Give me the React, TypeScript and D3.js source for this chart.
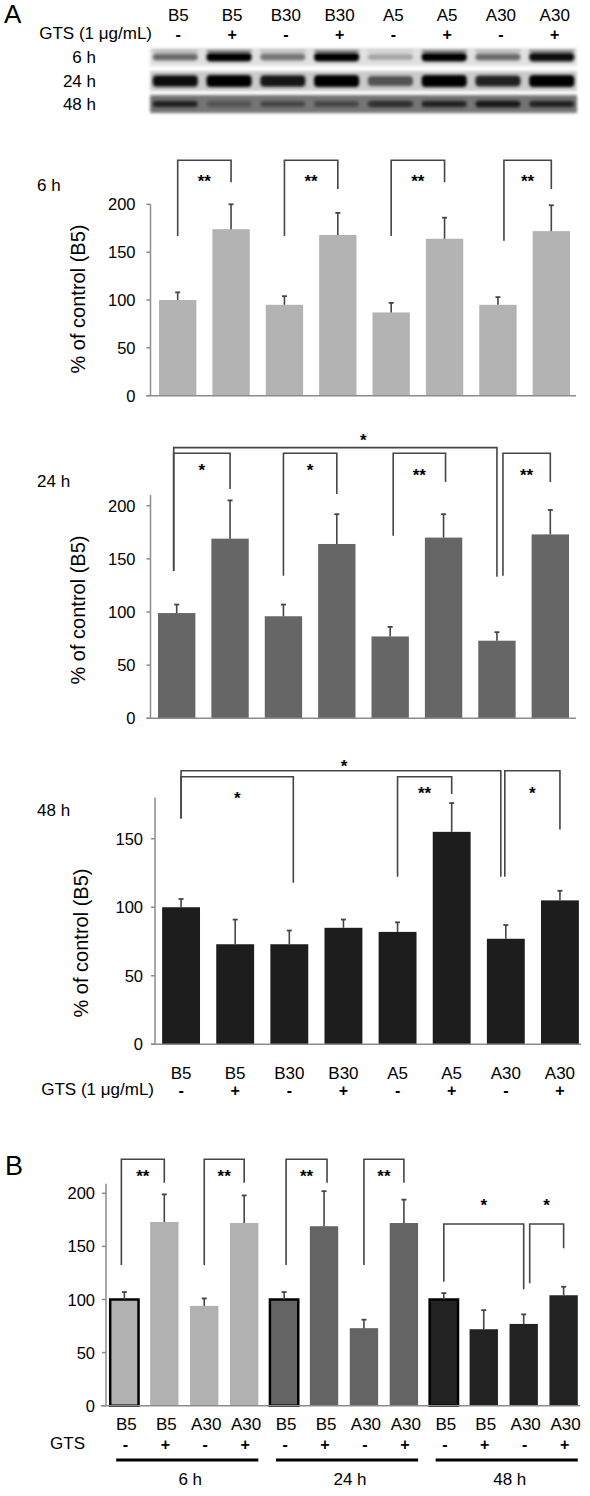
import React from 'react';
import * as d3 from 'd3';

const FONT = "'Liberation Sans', Arial, Helvetica, sans-serif";

// ---------- Data ----------
const categoriesA = ['B5', 'B5', 'B30', 'B30', 'A5', 'A5', 'A30', 'A30'];
const gtsA = ['-', '+', '-', '+', '-', '+', '-', '+'];

const values6h = [100, 174, 95, 168, 87, 164, 95, 172];
const errTop6h = [108, 200, 104, 191, 97, 186, 103, 199];

const values24h = [99, 169, 96, 164, 77, 170, 73, 173];
const errTop24h = [107, 205, 107, 192, 86, 192, 81, 196];

const values48h = [100, 73, 73, 85, 82, 155, 77, 105];
const errTop48h = [106, 91, 83, 91, 89, 176, 87, 112];

const ticks200 = [0, 50, 100, 150, 200];
const ticks150 = [0, 50, 100, 150];

const blot6h = [0.55, 1, 0.5, 1, 0.3, 1, 0.55, 0.95];
const blot24h = [0.95, 1, 0.9, 1, 0.65, 1, 0.85, 1];
const blot48h = [0.85, 0.65, 0.7, 0.7, 0.8, 0.85, 0.9, 0.85];
const blotRows = ['6 h', '24 h', '48 h'];

const categoriesB = ['B5', 'B5', 'A30', 'A30', 'B5', 'B5', 'A30', 'A30', 'B5', 'B5', 'A30', 'A30'];
const gtsB = ['-', '+', '-', '+', '-', '+', '-', '+', '-', '+', '-', '+'];
const valuesB = [100, 173, 94, 172, 100, 169, 73, 172, 100, 72, 77, 104];
const errTopB = [107, 199, 101, 198, 107, 202, 81, 194, 106, 90, 86, 112];
const groupsB = ['6 h', '24 h', '48 h'];
const groupColorsB = ['#b1b1b1', '#646464', '#222222'];

type Bracket = {
  a: number; b: number; top: number; ya: number; yb: number; label: string;
  sy: number; dxa?: number; dxb?: number; sx?: number;
};

const brackets6h: Bracket[] = [
  { a: 0, b: 1, top: 246, ya: 167, yb: 223, label: '**', sy: 227 },
  { a: 2, b: 3, top: 246, ya: 167, yb: 216, label: '**', sy: 227 },
  { a: 4, b: 5, top: 246, ya: 167, yb: 223, label: '**', sy: 227 },
  { a: 6, b: 7, top: 246, ya: 162, yb: 216, label: '**', sy: 227, dxa: 6 },
];

const brackets24h: Bracket[] = [
  { a: 0, b: 6, top: 254.6, ya: 138.6, yb: 133.2, label: '*', sy: 265, dxa: -3, sx: 28 },
  { a: 0, b: 1, top: 249.3, ya: 138.6, yb: 215.7, label: '*', sy: 236.7, dxa: -3 },
  { a: 2, b: 3, top: 249.3, ya: 134.1, yb: 211, label: '*', sy: 236.4 },
  { a: 4, b: 5, top: 249.3, ya: 171.8, yb: 222.3, label: '**', sy: 231.7, dxa: 3, dxb: 2 },
  { a: 6, b: 7, top: 249.3, ya: 134.1, yb: 222.3, label: '**', sy: 231.7, dxa: 6 },
];

const brackets48h: Bracket[] = [
  { a: 0, b: 6, top: 199.6, ya: 164.8, yb: 122.2, label: '*', sy: 205.4, dxb: -5, sx: 3 },
  { a: 0, b: 2, top: 195.2, ya: 164.8, yb: 117.9, label: '*', sy: 181.8, dxb: 4 },
  { a: 4, b: 5, top: 195.2, ya: 122.2, yb: 182.6, label: '**', sy: 185.5 },
  { a: 6, b: 7, top: 199.6, ya: 122.2, yb: 156.8, label: '*', sy: 185.5, dxa: -1 },
];

const bracketsB: Bracket[] = [
  { a: 0, b: 1, top: 232, ya: 132.5, yb: 210, label: '**', sy: 218.8, dxa: -3 },
  { a: 2, b: 3, top: 232, ya: 132.5, yb: 210, label: '**', sy: 218.8 },
  { a: 4, b: 5, top: 232, ya: 132.5, yb: 210, label: '**', sy: 218.8, dxa: 2, dxb: 3 },
  { a: 6, b: 7, top: 232, ya: 132.5, yb: 210, label: '**', sy: 218.8 },
  { a: 8, b: 10, top: 171.1, ya: 116.8, yb: 109.6, label: '*', sy: 192 },
  { a: 10, b: 11, top: 171.1, ya: 115.3, yb: 148.2, label: '*', sy: 192, dxa: 6 },
];

const yTitle = '% of control (B5)';

type PanelCfg = {
  name: string; values: number[]; errs: number[]; color: string; brackets: Bracket[];
  y0: number; yRefPx: number; yRefVal: number; axisMax: number; ticks: number[];
  axisX: number; xRange: [number, number]; xAxisEnd: number; titleX: number; titleY: number;
  labelY: number; tickGap: number;
};

const panelsA: PanelCfg[] = [
  {
    name: '6 h', values: values6h, errs: errTop6h, color: '#b3b3b3', brackets: brackets6h,
    y0: 395.7, yRefPx: 204.3, yRefVal: 200, axisMax: 200, ticks: ticks200,
    axisX: 150.5, xRange: [151, 578], xAxisEnd: 576, titleX: 78, titleY: 299, labelY: 185, tickGap: 15,
  },
  {
    name: '24 h', values: values24h, errs: errTop24h, color: '#666666', brackets: brackets24h,
    y0: 718.3, yRefPx: 505.7, yRefVal: 200, axisMax: 210, ticks: ticks200,
    axisX: 150.5, xRange: [150, 577], xAxisEnd: 576, titleX: 78, titleY: 610, labelY: 481, tickGap: 15,
  },
  {
    name: '48 h', values: values48h, errs: errTop48h, color: '#1d1d1d', brackets: brackets48h,
    y0: 1044.3, yRefPx: 838.7, yRefVal: 150, axisMax: 180, ticks: ticks150,
    axisX: 155, xRange: [154, 587], xAxisEnd: 581, titleX: 81, titleY: 943, labelY: 810, tickGap: 12,
  },
];

const AXIS = '#8c8c8c';
const LINE = '#454545';
const FS = 17;
const TICK_FS = 16.5;

function BracketMark({ br, cx, y }: { br: Bracket; cx: (i: number) => number; y: d3.ScaleLinear<number, number> }) {
  const xa = cx(br.a) + (br.dxa || 0);
  const xb = cx(br.b) + (br.dxb || 0);
  const d = `M${xa},${y(br.ya)}V${y(br.top)}H${xb}V${y(br.yb)}`;
  const sx = (xa + xb) / 2 + (br.sx || 0);
  return (
    <g>
      <path d={d} fill="none" stroke={LINE} strokeWidth={1.6} />
      <text x={sx} y={y(br.sy) + 9} textAnchor="middle" fontSize={17} fontWeight="bold" fill="#000">{br.label}</text>
    </g>
  );
}

function PanelA({ p, showBottom }: { p: PanelCfg; showBottom: boolean }) {
  const x = d3.scaleBand<number>().domain(d3.range(categoriesA.length)).range(p.xRange).paddingInner(0.3).paddingOuter(0.15);
  const y = d3.scaleLinear().domain([0, p.yRefVal]).range([p.y0, p.yRefPx]);
  const bw = x.bandwidth();
  const cx = (i: number) => (x(i) as number) + bw / 2;
  return (
    <g>
      <text x={37} y={p.labelY} dominantBaseline="central" fontSize={FS}>{p.name}</text>
      <text transform={`translate(${p.titleX},${p.titleY}) rotate(-90)`} textAnchor="middle" dominantBaseline="central" fontSize={20}>{yTitle}</text>
      {p.values.map((v, i) => (
        <rect key={'b' + i} x={x(i)} y={y(v)} width={bw} height={y(0) - y(v)} fill={p.color} />
      ))}
      {p.errs.map((e, i) => (
        <g key={'e' + i}>
          <line x1={cx(i)} x2={cx(i)} y1={y(p.values[i])} y2={y(e)} stroke={LINE} strokeWidth={1.6} />
          <line x1={cx(i) - 2.5} x2={cx(i) + 2.5} y1={y(e)} y2={y(e)} stroke={LINE} strokeWidth={1.8} />
        </g>
      ))}
      <line x1={p.axisX} x2={p.axisX} y1={y(0)} y2={y(p.axisMax)} stroke={AXIS} strokeWidth={1.5} />
      <line x1={p.axisX - 4} x2={p.xAxisEnd} y1={y(0)} y2={y(0)} stroke={AXIS} strokeWidth={1.5} />
      {p.ticks.map((t) => (
        <g key={'t' + t}>
          <line x1={p.axisX - 4} x2={p.axisX} y1={y(t)} y2={y(t)} stroke={AXIS} strokeWidth={1.5} />
          <text x={p.axisX - p.tickGap} y={y(t)} textAnchor="end" dominantBaseline="central" fontSize={TICK_FS}>{t}</text>
        </g>
      ))}
      {p.brackets.map((br, i) => <BracketMark key={'br' + i} br={br} cx={cx} y={y} />)}
      {showBottom && (
        <g>
          {categoriesA.map((c, i) => (
            <text key={'c' + i} x={cx(i)} y={1073} textAnchor="middle" dominantBaseline="central" fontSize={FS}>{c}</text>
          ))}
          <text x={154} y={1089} textAnchor="end" dominantBaseline="central" fontSize={FS}>GTS (1 μg/mL)</text>
          {gtsA.map((g, i) => (
            <text key={'g' + i} x={cx(i)} y={1090} textAnchor="middle" dominantBaseline="central" fontSize={16} fontWeight="bold">{g}</text>
          ))}
        </g>
      )}
    </g>
  );
}

function Blot() {
  const lanes = d3.scaleBand<number>().domain(d3.range(8)).range([150, 577]).paddingInner(0.16).paddingOuter(0.05);
  const lw = lanes.bandwidth();
  const lc = (i: number) => (lanes(i) as number) + lw / 2;
  const rows = [
    { data: blot6h, top: 48, h: 18, bg: '#e0e0e0', bandH: 9, label: blotRows[0] },
    { data: blot24h, top: 71, h: 20, bg: '#cacaca', bandH: 12, label: blotRows[1] },
    { data: blot48h, top: 95, h: 18, bg: '#767676', bandH: 7, label: blotRows[2] },
  ];
  const gray = (d: number) => {
    const v = Math.round(235 * (1 - d));
    return d3.rgb(v, v, v).toString();
  };
  return (
    <g>
      <defs>
        <filter id="blotBlur" x="-20%" y="-50%" width="140%" height="200%">
          <feGaussianBlur stdDeviation="1.6" />
        </filter>
        <clipPath id="blotClip">
          {rows.map((r, k) => <rect key={k} x={150} y={r.top} width={427} height={r.h} />)}
        </clipPath>
      </defs>
      {categoriesA.map((c, i) => (
        <text key={'tc' + i} x={lc(i) + 3} y={15} textAnchor="middle" dominantBaseline="central" fontSize={FS}>{c}</text>
      ))}
      <text x={152} y={33} textAnchor="end" dominantBaseline="central" fontSize={FS}>GTS (1 μg/mL)</text>
      {gtsA.map((g, i) => (
        <text key={'tg' + i} x={lc(i) + 3} y={34} textAnchor="middle" dominantBaseline="central" fontSize={16} fontWeight="bold">{g}</text>
      ))}
      {rows.map((r, k) => (
        <g key={'row' + k}>
          <text x={96} y={r.top + r.h / 2} textAnchor="end" dominantBaseline="central" fontSize={FS}>{r.label}</text>
          <rect x={150} y={r.top} width={427} height={r.h} fill={r.bg} filter="url(#blotBlur)" />
        </g>
      ))}
      <g clipPath="url(#blotClip)">
        {rows.map((r, k) => (
          <g key={'bands' + k} filter="url(#blotBlur)">
            {r.data.map((d, i) => (
              <g key={i}>
                <rect x={lanes(i)} y={r.top + r.h / 2 - (r.bandH * (0.55 + 0.45 * d)) / 2}
                  width={lw} height={r.bandH * (0.55 + 0.45 * d)} rx={4} fill={gray(d)} />
                {k === 0 && (
                  <rect x={lanes(i)} y={r.top + 2} width={lw} height={2} fill={gray(d * 0.5)} />
                )}
              </g>
            ))}
          </g>
        ))}
      </g>
    </g>
  );
}

function PanelB() {
  const x = d3.scaleBand<number>().domain(d3.range(categoriesB.length)).range([107, 581]).paddingInner(0.29).paddingOuter(0.08);
  const y = d3.scaleLinear().domain([0, 200]).range([1405.7, 1193.3]);
  const bw = x.bandwidth();
  const cx = (i: number) => (x(i) as number) + bw / 2;
  const axisX = 106;
  const groupSize = 4;
  return (
    <g>
      <text x={5} y={1175} fontSize={27}>B</text>
      {valuesB.map((v, i) => {
        const g = Math.floor(i / groupSize);
        const first = i % groupSize === 0;
        return (
          <rect key={'b' + i} x={x(i)} y={y(v)} width={bw} height={y(0) - y(v)} fill={groupColorsB[g]}
            stroke={first ? '#000' : 'none'} strokeWidth={first ? 2.5 : 0} />
        );
      })}
      {errTopB.map((e, i) => (
        <g key={'e' + i}>
          <line x1={cx(i)} x2={cx(i)} y1={y(valuesB[i])} y2={y(e)} stroke={LINE} strokeWidth={1.6} />
          <line x1={cx(i) - 2.5} x2={cx(i) + 2.5} y1={y(e)} y2={y(e)} stroke={LINE} strokeWidth={1.8} />
        </g>
      ))}
      <line x1={axisX} x2={axisX} y1={y(0)} y2={y(209)} stroke={AXIS} strokeWidth={1.5} />
      <line x1={axisX - 5} x2={580} y1={y(0)} y2={y(0)} stroke={AXIS} strokeWidth={1.5} />
      {ticks200.map((t) => (
        <g key={'t' + t}>
          <line x1={axisX - 4} x2={axisX} y1={y(t)} y2={y(t)} stroke={AXIS} strokeWidth={1.5} />
          <text x={axisX - 11} y={y(t)} textAnchor="end" dominantBaseline="central" fontSize={TICK_FS}>{t}</text>
        </g>
      ))}
      {bracketsB.map((br, i) => <BracketMark key={'br' + i} br={br} cx={cx} y={y} />)}
      {categoriesB.map((c, i) => (
        <text key={'c' + i} x={cx(i) + 2} y={1424} textAnchor="middle" dominantBaseline="central" fontSize={FS}>{c}</text>
      ))}
      <text x={85} y={1443} textAnchor="end" dominantBaseline="central" fontSize={FS}>GTS</text>
      {gtsB.map((g, i) => (
        <text key={'g' + i} x={cx(i) + 1} y={1444} textAnchor="middle" dominantBaseline="central" fontSize={16} fontWeight="bold">{g}</text>
      ))}
      {groupsB.map((gname, g) => {
        const x1 = (x(g * groupSize) as number) + 6;
        const x2 = (x(g * groupSize + groupSize - 1) as number) + bw;
        return (
          <g key={'grp' + g}>
            <line x1={x1} x2={x2} y1={1460} y2={1460} stroke="#000" strokeWidth={3} />
            <text x={(x1 + x2) / 2 + 3} y={1479} textAnchor="middle" dominantBaseline="central" fontSize={FS}>{gname}</text>
          </g>
        );
      })}
    </g>
  );
}

export default function App() {
  return (
    <svg width={590} height={1496} viewBox="0 0 590 1496"
      style={{ position: 'absolute', left: 0, top: 0, display: 'block', background: '#fff' }}
      fontFamily={FONT}>
      <rect x={0} y={0} width={590} height={1496} fill="#fff" />
      <text x={4} y={23} fontSize={26}>A</text>
      <Blot />
      {panelsA.map((p, i) => <PanelA key={p.name} p={p} showBottom={i === panelsA.length - 1} />)}
      <PanelB />
    </svg>
  );
}
